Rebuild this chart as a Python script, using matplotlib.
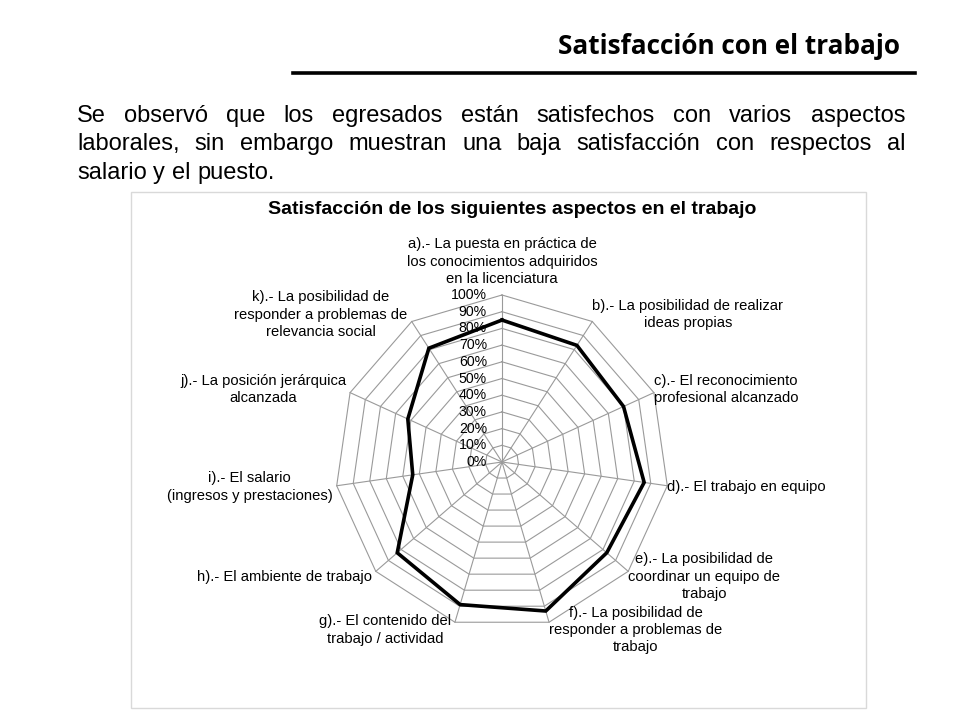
import matplotlib
matplotlib.use('Agg')
import matplotlib.pyplot as plt
import numpy as np
from matplotlib.patches import Rectangle
from matplotlib.lines import Line2D

# ---------------------------------------------------------------------------
# Data
# ---------------------------------------------------------------------------
heading = 'Satisfacción con el trabajo'
paragraph = [
    'Se observó que los egresados están satisfechos con varios aspectos',
    'laborales, sin embargo muestran una baja satisfacción con respectos al',
    'salario y el puesto.',
]
chart_title = 'Satisfacción de los siguientes aspectos en el trabajo'

aspects = [
    'a).- La puesta en práctica de\nlos conocimientos adquiridos\nen la licenciatura',
    'b).- La posibilidad de realizar\nideas propias',
    'c).- El reconocimiento\nprofesional alcanzado',
    'd).- El trabajo en equipo',
    'e).- La posibilidad de\ncoordinar un equipo de\ntrabajo',
    'f).- La posibilidad de\nresponder a problemas de\ntrabajo',
    'g).- El contenido del\ntrabajo / actividad',
    'h).- El ambiente de trabajo',
    'i).- El salario\n(ingresos y prestaciones)',
    'j).- La posición jerárquica\nalcanzada',
    'k).- La posibilidad de\nresponder a problemas de\nrelevancia social',
]
satisfaction = [0.85, 0.83, 0.80, 0.86, 0.83, 0.93, 0.89, 0.83, 0.54, 0.62, 0.81]
levels = [0.0, 0.1, 0.2, 0.3, 0.4, 0.5, 0.6, 0.7, 0.8, 0.9, 1.0]
level_labels = ['0%', '10%', '20%', '30%', '40%', '50%', '60%', '70%', '80%', '90%', '100%']

# ---------------------------------------------------------------------------
W, H = 960, 720
plt.rcParams['font.family'] = ['Liberation Sans', 'DejaVu Sans']
fig = plt.figure(figsize=(W / 100, H / 100), dpi=100)


def fx(px):
    return px / W


def fy(py):
    return 1 - py / H


# heading with rule underneath
fig.text(fx(900), fy(47), heading, ha='right', va='center', fontsize=18.8,
         fontweight='bold', family=['Open Sans', 'DejaVu Sans'])
fig.add_artist(Line2D([fx(293), fx(915)], [fy(73), fy(73)], color='black', lw=2.6))

# justified paragraph
renderer = fig.canvas.get_renderer()
para_fs = 17
x_left, x_right = 77, 905
line_y = [116, 144, 173]
sp = fig.text(0, 0, 'a a', fontsize=para_fs)
sa = fig.text(0, 0, 'aa', fontsize=para_fs)
normal_gap = sp.get_window_extent(renderer).width - sa.get_window_extent(renderer).width
sp.remove()
sa.remove()
for i, line in enumerate(paragraph):
    words = line.split(' ')
    texts = [fig.text(0, fy(line_y[i]), w, fontsize=para_fs, va='center', ha='left')
             for w in words]
    widths = [t.get_window_extent(renderer).width for t in texts]
    if i == len(paragraph) - 1:
        gap = normal_gap
    else:
        gap = (x_right - x_left - sum(widths)) / (len(words) - 1)
    x = x_left
    for t, w in zip(texts, widths):
        t.set_x(fx(x))
        x += w + gap

# chart frame
fig.add_artist(Rectangle((fx(131), fy(708)), fx(866) - fx(131), fy(192) - fy(708),
                         transform=fig.transFigure, fill=False,
                         edgecolor='#d9d9d9', lw=1))
fig.text(fx(512), fy(209), chart_title, ha='center', va='center',
         fontsize=14, fontweight='bold')

# radar axes
cx, cy, rad = 502, 462, 167
half = 260
ax = fig.add_axes([fx(cx - half), fy(cy + half), 2 * half / W, 2 * half / H])
lim = half / rad
ax.set_xlim(-lim, lim)
ax.set_ylim(-lim, lim)
ax.axis('off')

n = len(aspects)
theta = 2 * np.pi * np.arange(n) / n
sx, cyv = np.sin(theta), np.cos(theta)
grid_col = '#9a9a9a'

for lv in levels[1:]:
    ax.plot(np.append(lv * sx, lv * sx[0]), np.append(lv * cyv, lv * cyv[0]),
            color=grid_col, lw=0.8, zorder=1)
for k in range(n):
    ax.plot([0, sx[k]], [0, cyv[k]], color=grid_col, lw=0.8, zorder=1)

vals = np.array(satisfaction)
ax.plot(np.append(vals * sx, vals[0] * sx[0]), np.append(vals * cyv, vals[0] * cyv[0]),
        color='black', lw=2.6, zorder=3, solid_joinstyle='miter')

lab_fs = 10.6
for lv, lab in zip(levels, level_labels):
    ax.annotate(lab, xy=(0, lv), xytext=(-15, 0), textcoords='offset pixels',
                ha='right', va='center', fontsize=10.2, zorder=4)

for k, lab in enumerate(aspects):
    if k == 0:
        ax.annotate(lab, xy=(0, 1), xytext=(0, 9), textcoords='offset pixels',
                    ha='center', va='bottom', fontsize=lab_fs, multialignment='center',
                    linespacing=1.3)
        continue
    ha = 'left' if sx[k] > 0 else 'right'
    dx = 0 if sx[k] > 0 else -4
    ax.annotate(lab, xy=(sx[k], cyv[k]), xytext=(dx, 8 * cyv[k]),
                textcoords='offset pixels', ha=ha, va='center', fontsize=lab_fs,
                multialignment='center', linespacing=1.3)

fig.savefig('out.png', dpi=100)
